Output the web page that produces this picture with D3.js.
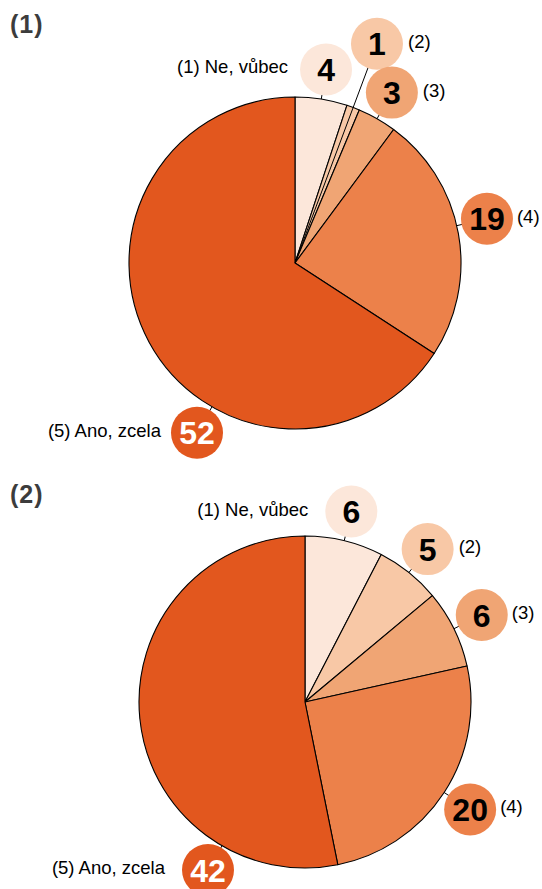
<!DOCTYPE html>
<html>
<head>
<meta charset="utf-8">
<script src="https://cdn.jsdelivr.net/npm/d3@7"></script>
<style>
  html, body { margin: 0; padding: 0; background: #fff; }
  svg { display: block; }
</style>
</head>
<body>
<svg id="chart" width="542" height="889"></svg>
<script>
// ---- data ----
const categories = ["(1) Ne, vůbec", "(2)", "(3)", "(4)", "(5) Ano, zcela"];
const panelTitles = ["(1)", "(2)"];
const values1 = [4, 1, 3, 19, 52];
const values2 = [6, 5, 6, 20, 42];
const colors = ["#fce7da", "#f8c8a6", "#f0a574", "#ec814a", "#e2571e"];
const numberColors = ["#000", "#000", "#000", "#000", "#fff"];

// ---- layout (positions only) ----
const labelSide = ["left", "right", "right", "right", "left"];
const panels = [
  { title: panelTitles[0], values: values1, cx: 295, cy: 263, titleY: 33,
    angle: [null, null, null, 77, 210], dist: [196, 234, 196, 197, 196],
    leaderFrom: [1, 0, 1, 1, 1], gap: [12, 5, 5, 4, 10] },
  { title: panelTitles[1], values: values2, cx: 305, cy: 702, titleY: 503,
    angle: [null, null, null, null, 210], dist: [196, 196, 197, 197, 194],
    leaderFrom: [1, 1, 1, 1, 1], gap: [17, 5, 4, 4, 17] }
];
const R = 166, bubbleR = 26;
const font = "Liberation Sans, Arial, sans-serif";

const svg = d3.select("#chart");
const arc = d3.arc().innerRadius(0).outerRadius(R);
const pie = d3.pie().sort(null).value(d => d);
const deg = Math.PI / 180;

panels.forEach(p => {
  svg.append("text")
    .attr("x", 10).attr("y", p.titleY)
    .attr("font-family", font)
    .attr("font-weight", "bold")
    .attr("font-size", 25)
    .attr("letter-spacing", 1)
    .attr("fill", "#3c3c3c")
    .text(p.title);

  const g = svg.append("g").attr("transform", `translate(${p.cx},${p.cy})`);
  const arcs = pie(p.values);

  const pos = arcs.map((a, i) => {
    const ang = p.angle[i] != null ? p.angle[i] * deg : (a.startAngle + a.endAngle) / 2;
    return { ang, x: Math.sin(ang) * p.dist[i], y: -Math.cos(ang) * p.dist[i] };
  });

  g.selectAll("path.slice").data(arcs).join("path")
    .attr("class", "slice")
    .attr("d", arc)
    .attr("fill", (d, i) => colors[i])
    .attr("stroke", "#000")
    .attr("stroke-width", 1.1)
    .attr("stroke-linejoin", "round");

  arcs.forEach((a, i) => {
    const q = pos[i];
    const r0 = p.leaderFrom[i] * R;
    g.append("line")
      .attr("x1", Math.sin(q.ang) * r0).attr("y1", -Math.cos(q.ang) * r0)
      .attr("x2", q.x).attr("y2", q.y)
      .attr("stroke", "#000").attr("stroke-width", 1);
  });

  arcs.forEach((a, i) => {
    const q = pos[i];
    g.append("circle")
      .attr("cx", q.x).attr("cy", q.y).attr("r", bubbleR)
      .attr("fill", colors[i]);
    g.append("text")
      .attr("x", q.x).attr("y", q.y + 11.5)
      .attr("text-anchor", "middle")
      .attr("font-family", font)
      .attr("font-weight", "bold")
      .attr("font-size", 32)
      .attr("fill", numberColors[i])
      .text(p.values[i]);
    const left = labelSide[i] === "left";
    g.append("text")
      .attr("x", left ? q.x - bubbleR - p.gap[i] : q.x + bubbleR + p.gap[i])
      .attr("y", q.y + 4)
      .attr("text-anchor", left ? "end" : "start")
      .attr("font-family", font)
      .attr("font-size", 18.5)
      .attr("fill", "#000")
      .text(categories[i]);
  });
});
</script>
</body>
</html>
